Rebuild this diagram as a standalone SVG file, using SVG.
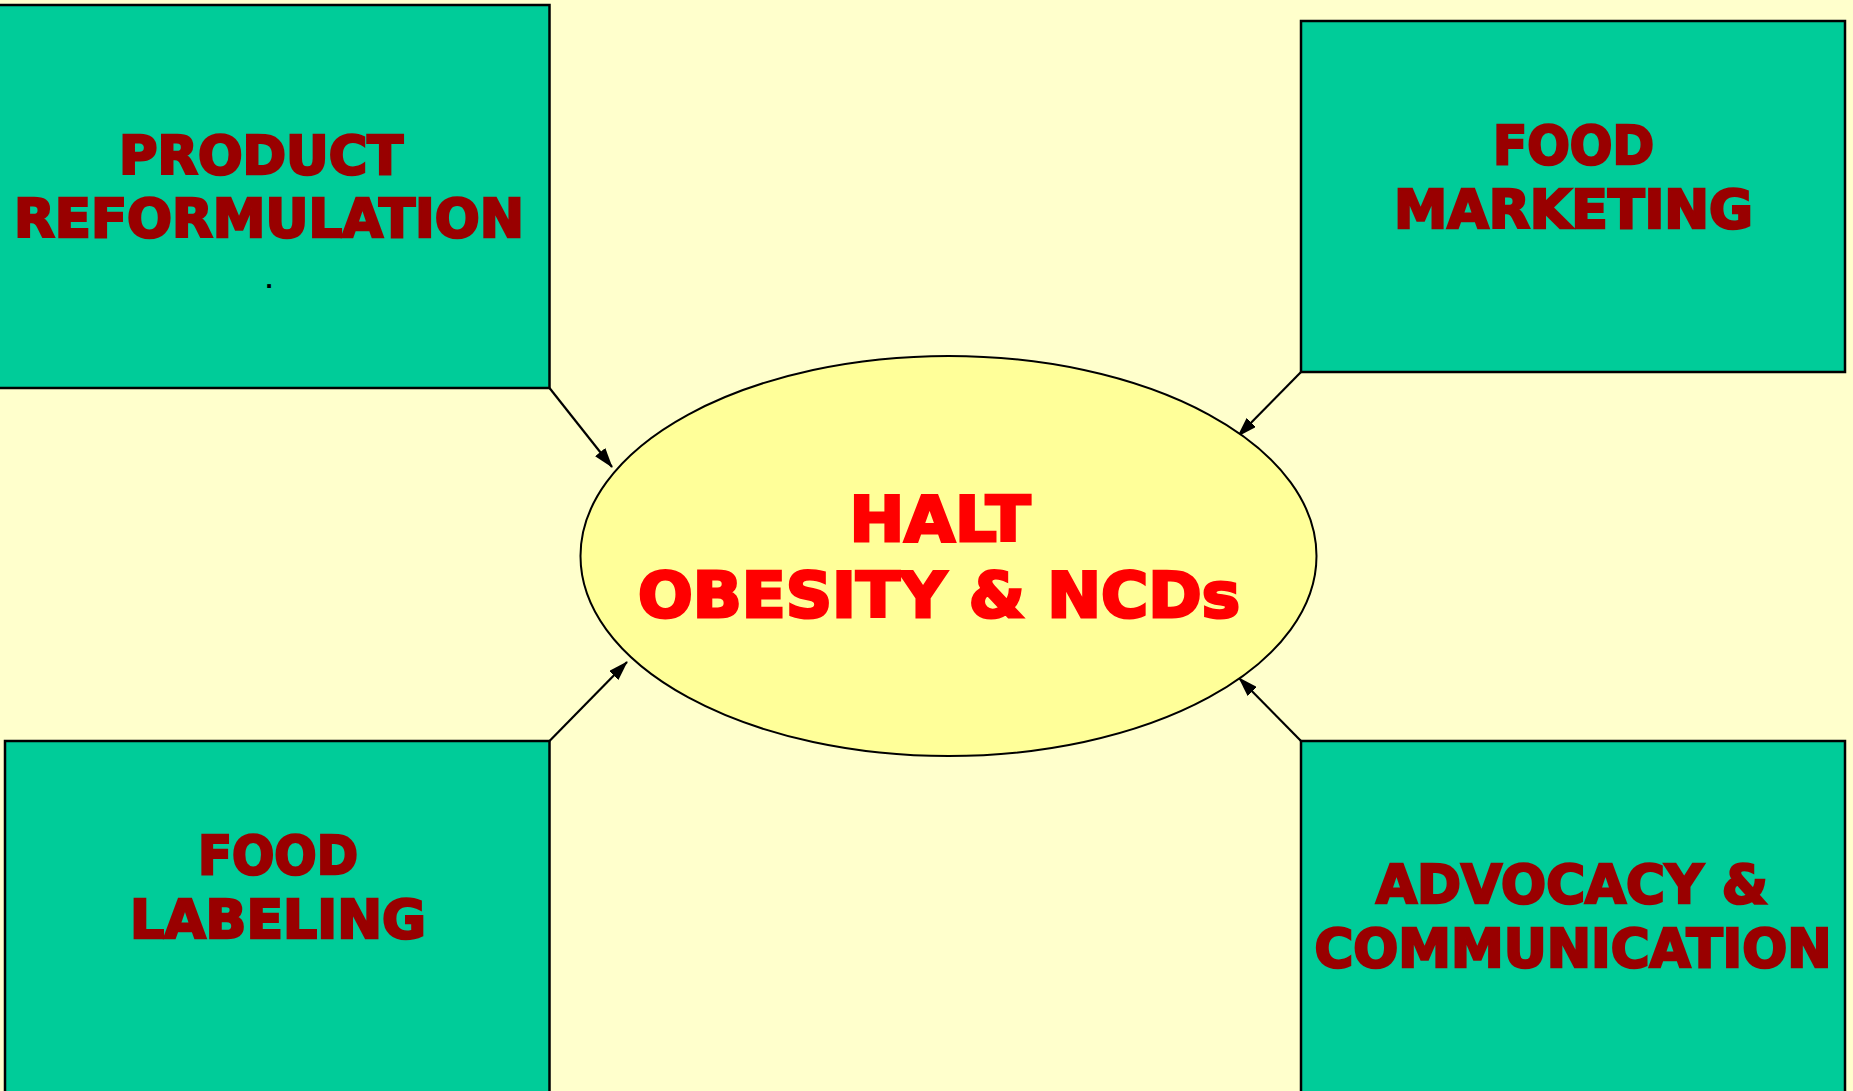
<svg xmlns="http://www.w3.org/2000/svg" width="1853" height="1091" viewBox="0 0 1853 1091">
<style>
.box{fill:#00CC99;stroke:#000;stroke-width:2.5}
.lbl{font-family:"DejaVu Sans","Liberation Sans",sans-serif;font-weight:bold;fill:#990000;stroke:#990000;stroke-width:2.6;stroke-linejoin:miter;text-anchor:middle;font-size:53px}
.ctr{font-family:"DejaVu Sans","Liberation Sans",sans-serif;font-weight:bold;fill:#FF0000;stroke:#FF0000;stroke-width:3;stroke-linejoin:miter;text-anchor:middle;font-size:63px}
.conn{stroke:#000;stroke-width:2.2;fill:none;marker-end:url(#ah)}
</style>
<defs>
<marker id="ah" viewBox="0 0 20 13" refX="19" refY="6.5" markerUnits="userSpaceOnUse" markerWidth="20" markerHeight="13" orient="auto">
<path d="M0,0 L20,6.5 L0,13 z" fill="#000"/>
</marker>
</defs>
<rect x="0" y="0" width="1853" height="1091" fill="#FFFFCC"/>
<g id="connectors">
<line class="conn" x1="549.5" y1="388" x2="612" y2="467"/>
<line class="conn" x1="1301" y1="372" x2="1238" y2="436"/>
<line class="conn" x1="549.5" y1="741" x2="627" y2="662"/>
<line class="conn" x1="1301" y1="741" x2="1239" y2="678"/>
</g>
<g id="center">
<ellipse cx="948.5" cy="556" rx="368" ry="200" fill="#FFFF99" stroke="#000" stroke-width="2"/>
<text class="ctr" x="940" y="541" textLength="181" lengthAdjust="spacingAndGlyphs">HALT</text>
<text class="ctr" x="939" y="617" textLength="602" lengthAdjust="spacingAndGlyphs">OBESITY &amp; NCDs</text>
</g>
<g id="product-reformulation">
<rect class="box" x="-3" y="5" width="552.5" height="383"/>
<text class="lbl" x="261" y="174" textLength="284" lengthAdjust="spacingAndGlyphs">PRODUCT</text>
<text class="lbl" x="269" y="237" textLength="510" lengthAdjust="spacingAndGlyphs">REFORMULATION</text>
<text x="269" y="288" font-family="Liberation Sans, sans-serif" font-weight="bold" font-size="26" text-anchor="middle" fill="#000">.</text>
</g>
<g id="food-marketing">
<rect class="box" x="1301" y="21" width="544" height="351"/>
<text class="lbl" x="1573.5" y="164" textLength="161" lengthAdjust="spacingAndGlyphs">FOOD</text>
<text class="lbl" x="1573.5" y="228" textLength="359" lengthAdjust="spacingAndGlyphs">MARKETING</text>
</g>
<g id="food-labeling">
<rect class="box" x="5" y="741" width="544.5" height="400"/>
<text class="lbl" x="278" y="874" textLength="160" lengthAdjust="spacingAndGlyphs">FOOD</text>
<text class="lbl" x="278" y="938" textLength="296" lengthAdjust="spacingAndGlyphs">LABELING</text>
</g>
<g id="advocacy-communication">
<rect class="box" x="1301" y="741" width="544" height="400"/>
<text class="lbl" x="1572" y="903" textLength="392" lengthAdjust="spacingAndGlyphs">ADVOCACY &amp;</text>
<text class="lbl" x="1573" y="967" textLength="517" lengthAdjust="spacingAndGlyphs">COMMUNICATION</text>
</g>
</svg>
